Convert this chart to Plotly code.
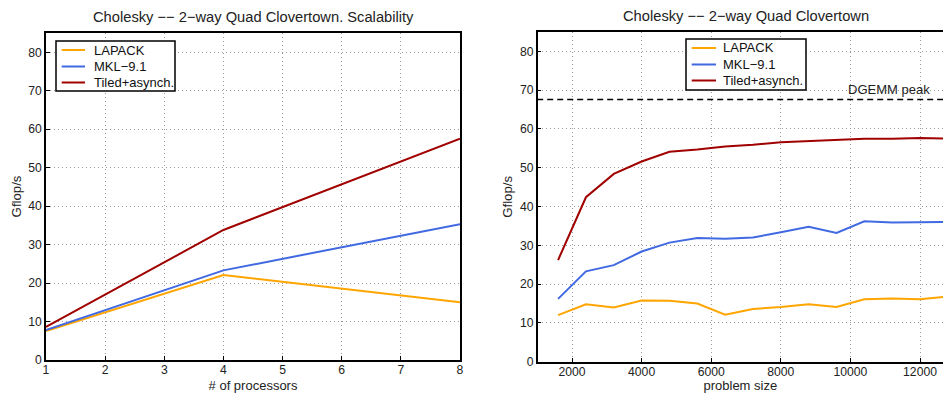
import plotly.graph_objects as go

# Left panel: scalability
procs = [1, 2, 4, 8]
lapack_scal = [7.5, 12.4, 22.1, 15.0]
mkl_scal = [7.8, 12.9, 23.3, 35.3]
tiled_scal = [8.6, 17.0, 33.8, 57.5]

# Right panel: problem size
sizes = [1600, 2400, 3200, 4000, 4800, 5600, 6400, 7200, 8000, 8800, 9600, 10400, 11200, 12000, 12800]
lapack_size = [12.0, 14.8, 14.0, 15.8, 15.7, 15.0, 12.1, 13.6, 14.1, 14.8, 14.1, 16.1, 16.3, 16.1, 16.8]
mkl_size = [16.2, 23.3, 24.9, 28.4, 30.7, 31.9, 31.7, 32.0, 33.4, 34.8, 33.2, 36.2, 35.9, 36.0, 36.0]
tiled_size = [26.2, 42.4, 48.4, 51.6, 54.1, 54.7, 55.5, 55.9, 56.6, 56.9, 57.2, 57.5, 57.5, 57.7, 57.5]
dgemm_peak = 67.6

series_names = ["LAPACK", "MKL\u22129.1", "Tiled+asynch."]
colors = ["#FFA500", "#4169E1", "#A00000"]

W, H = 943, 393
FONT = "Liberation Sans, Arial, Helvetica, sans-serif"


def px(x):
    return x / W


def py(y):
    return 1 - y / H


fig = go.Figure()
for name, ys, c in zip(series_names, [lapack_scal, mkl_scal, tiled_scal], colors):
    fig.add_trace(go.Scatter(x=procs, y=ys, mode="lines", name=name,
                             line=dict(color=c, width=2), xaxis="x", yaxis="y",
                             showlegend=False))
for name, ys, c in zip(series_names, [lapack_size, mkl_size, tiled_size], colors):
    fig.add_trace(go.Scatter(x=sizes, y=ys, mode="lines", name=name,
                             line=dict(color=c, width=2), xaxis="x2", yaxis="y2",
                             showlegend=False))

fig.add_trace(go.Scatter(x=[1000, 12700], y=[dgemm_peak, dgemm_peak], mode="lines",
                         line=dict(color="black", width=1.6, dash="6px,4px"),
                         xaxis="x2", yaxis="y2", showlegend=False, hoverinfo="skip"))

axis_common = dict(showline=True, linecolor="black", linewidth=1.5,
                   showgrid=True, gridcolor="#9a9a9a", griddash="1px,3px", gridwidth=1,
                   ticks="inside", ticklen=4, tickcolor="black",
                   tickfont=dict(size=12.2, color="#222"), zeroline=False,
                   automargin=False)

shapes = []
annotations = [
    dict(text="Cholesky \u2212\u2212 2\u2212way Quad Clovertown. Scalability",
         x=px(253), y=py(17), xref="paper", yref="paper",
         showarrow=False, font=dict(size=14.7, color="#222"),
         xanchor="center", yanchor="middle"),
    dict(text="Cholesky \u2212\u2212 2\u2212way Quad Clovertown",
         x=px(746), y=py(16), xref="paper", yref="paper",
         showarrow=False, font=dict(size=14.7, color="#222"),
         xanchor="center", yanchor="middle"),
    dict(text="DGEMM peak", x=px(932), y=py(90), xref="paper", yref="paper",
         xanchor="right", yanchor="middle", showarrow=False,
         font=dict(size=13, color="#222")),
]

# Legend boxes (one per panel)
legend_boxes = [
    dict(x0=56, x1=175, y0=41, y1=91, lx0=61.7, lx1=85, tx=91.5),
    dict(x0=686, x1=806, y0=39, y1=90, lx0=691.7, lx1=716, tx=720.5),
]
row_y = [50, 66.5, 82.5]
for b in legend_boxes:
    shapes.append(dict(type="rect", xref="paper", yref="paper",
                       x0=px(b["x0"]), x1=px(b["x1"]), y0=py(b["y0"]), y1=py(b["y1"]),
                       line=dict(color="black", width=1.5), fillcolor="white", layer="above"))
    for i, (name, c) in enumerate(zip(series_names, colors)):
        yy = row_y[i] + (b["y0"] - 41)
        shapes.append(dict(type="line", xref="paper", yref="paper",
                           x0=px(b["lx0"]), x1=px(b["lx1"]), y0=py(yy), y1=py(yy),
                           line=dict(color=c, width=2), layer="above"))
        annotations.append(dict(text=name, x=px(b["tx"]), y=py(yy), xref="paper", yref="paper",
                                xanchor="left", yanchor="middle", showarrow=False,
                                font=dict(size=13, color="#111")))

fig.update_layout(
    width=W, height=H,
    margin=dict(l=0, r=0, t=0, b=0),
    paper_bgcolor="white", plot_bgcolor="white",
    font=dict(family=FONT, size=12.5, color="#222"),
    showlegend=False,
    xaxis=dict(domain=[px(46), px(460)], range=[1, 8], tickvals=list(range(1, 9)),
               mirror=True, anchor="y", ticklabelstandoff=-2,
               title=dict(text="# of processors", standoff=5, font=dict(size=13)),
               **axis_common),
    yaxis=dict(domain=[py(360), py(33)], range=[0, 85], tickvals=list(range(0, 81, 10)),
               mirror=True, anchor="x",
               title=dict(text="Gflop/s", standoff=4, font=dict(size=13.2)),
               **axis_common),
    xaxis2=dict(domain=[px(537.7), 1.0], range=[1014, 12660],
                tickvals=list(range(2000, 12001, 2000)), tickformat="d",
                mirror=True, anchor="y2", ticklabelstandoff=-2,
                title=dict(text="problem size", standoff=5, font=dict(size=13)),
                **axis_common),
    yaxis2=dict(domain=[py(361.7), py(32)], range=[0, 85], tickvals=list(range(0, 81, 10)),
                mirror=False, anchor="x2",
                title=dict(text="Gflop/s", standoff=4, font=dict(size=13.2)),
                **axis_common),
    shapes=shapes,
    annotations=annotations,
)

fig.write_html("out.html", config={"displayModeBar": False},
               post_script="document.body.style.margin='0';document.body.style.padding='0';")
